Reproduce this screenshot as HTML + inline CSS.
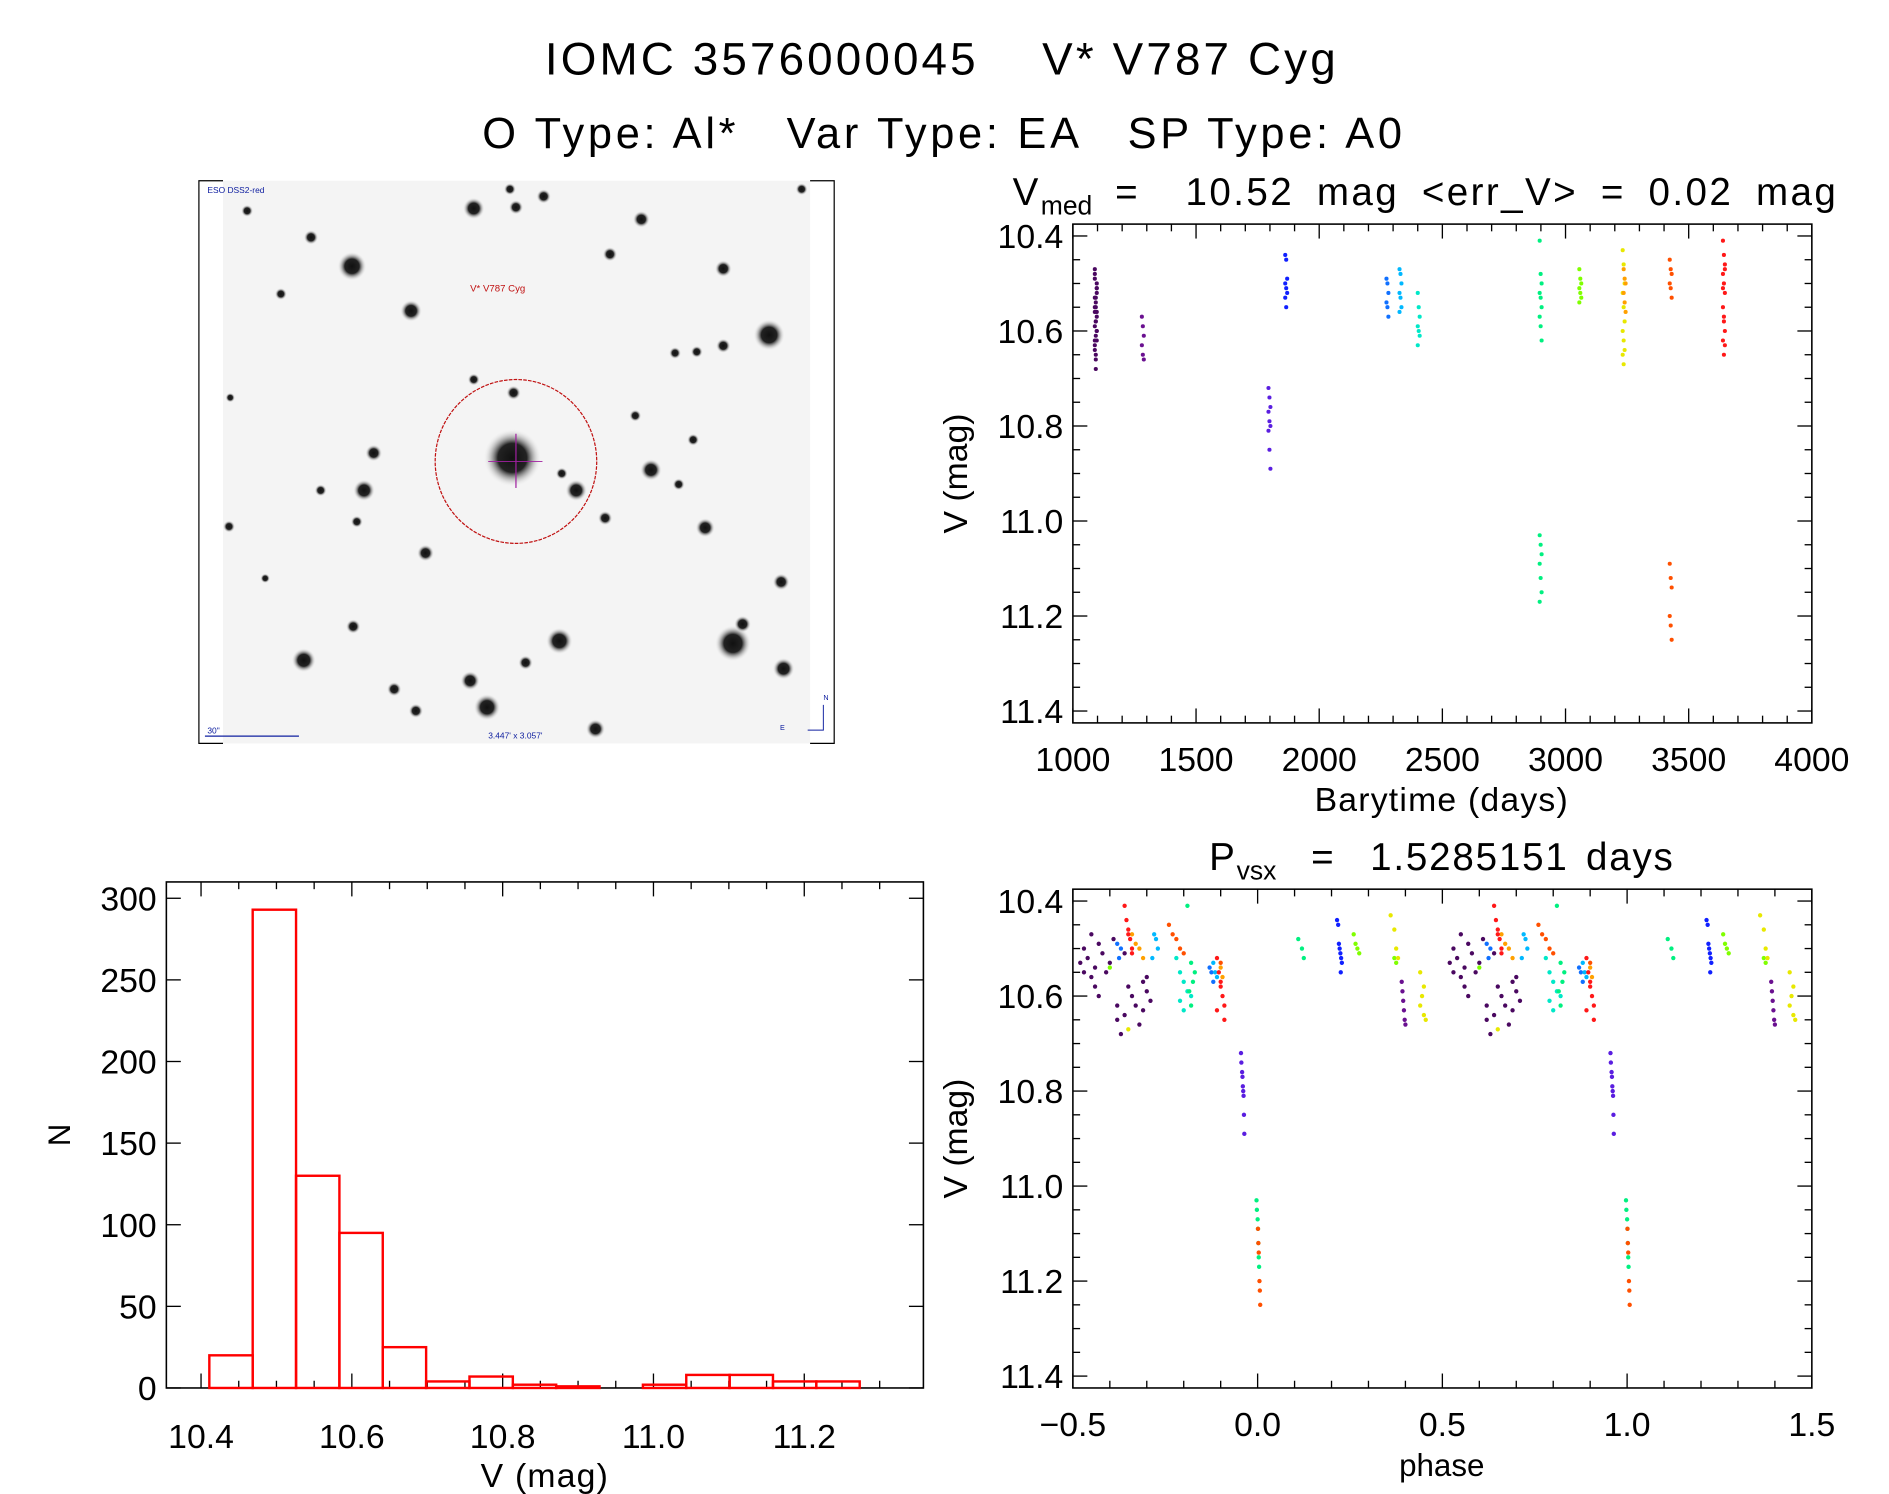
<!DOCTYPE html>
<html><head><meta charset="utf-8">
<style>
html,body{margin:0;padding:0;background:#fff;}
svg{display:block;}
text{font-family:"Liberation Sans",sans-serif;fill:#000;}
</style></head>
<body>
<svg id="fig" width="1889" height="1494" viewBox="0 0 1567 1240" preserveAspectRatio="none" xmlns="http://www.w3.org/2000/svg">
<defs>
<radialGradient id="star"><stop offset="0" stop-color="#111"/><stop offset="0.5" stop-color="#222"/><stop offset="1" stop-color="#f4f4f4" stop-opacity="0"/></radialGradient>
</defs>
<text x="452" y="62" font-size="38" textLength="656" lengthAdjust="spacing" xml:space="preserve">IOMC 3576000045    V* V787 Cyg</text>
<text x="400" y="123" font-size="36" textLength="763" lengthAdjust="spacing" xml:space="preserve">O Type: Al*   Var Type: EA   SP Type: A0</text>
<g id="img"></g>
<g id="lc"></g>
<g id="ph"></g>
<g id="hist"></g>
</svg>
<script>
// ---- Light curve data: one entry per season ----
const seasonTimes  = [1093, 1284, 1798, 1866, 2277, 2330, 2404, 2899, 3060, 3236, 3240, 3427, 3643];
const seasonColors = ["#4a0860","#6a1090","#5a1ee0","#1020ff","#1070ff","#00b8ff","#00e8c8","#00f080","#80ff00","#e8e800","#ffa000","#ff5000","#ff1818"];
const seasonMags = [
 [10.53,10.55,10.52,10.56,10.54,10.60,10.55,10.53,10.62,10.64,10.58,10.60,10.62,10.66,10.57,10.59,10.61,10.51,10.48,10.68,10.50,10.47,10.58,10.51,10.63,10.65,10.56,10.49],
 [10.57,10.59,10.61,10.63,10.65,10.66],
 [10.72,10.74,10.76,10.77,10.79,10.80,10.81,10.85,10.89],
 [10.44,10.45,10.49,10.50,10.51,10.52,10.53,10.55],
 [10.49,10.50,10.52,10.54,10.55,10.57],
 [10.47,10.48,10.50,10.52,10.53,10.55,10.56],
 [10.52,10.55,10.57,10.59,10.60,10.61,10.63],
 [10.41,10.48,10.50,10.52,10.53,10.55,10.57,10.59,10.62,11.03,11.05,11.07,11.09,11.12,11.15,11.17],
 [10.47,10.49,10.50,10.51,10.52,10.53,10.54],
 [10.43,10.46,10.50,10.52,10.55,10.58,10.60,10.62,10.64,10.65,10.67],
 [10.47,10.49,10.50,10.52,10.54,10.56],
 [10.45,10.47,10.48,10.50,10.51,10.53,11.09,11.12,11.14,11.20,11.22,11.25],
 [10.41,10.44,10.46,10.48,10.50,10.52,10.55,10.58,10.60,10.62,10.65,10.47,10.51,10.57,10.63]
];
const seasonPhases = [
 [-0.48,-0.47,-0.46,-0.45,-0.44,-0.43,-0.41,-0.40,-0.38,-0.36,-0.35,-0.34,-0.33,-0.32,-0.31,-0.30,-0.29,-0.42,-0.39,-0.37,-0.47,-0.45,-0.44,-0.36,-0.31,-0.38,-0.30,-0.43],
 [0.390,0.392,0.394,0.396,0.398,0.400],
 [-0.045,-0.044,-0.042,-0.041,-0.040,-0.039,-0.038,-0.037,-0.036],
 [0.215,0.218,0.220,0.222,0.224,0.226,0.228,0.225],
 [-0.38,-0.37,-0.375,-0.13,-0.125,-0.12],
 [-0.28,-0.275,-0.27,-0.285,-0.12,-0.115,-0.11],
 [-0.22,-0.21,-0.20,-0.19,-0.18,-0.21,-0.20],
 [-0.19,0.11,0.12,0.125,-0.18,-0.17,-0.175,-0.185,-0.18,-0.003,-0.002,0.0,0.001,0.002,0.003,0.004],
 [0.26,0.265,0.27,0.275,0.37,0.375,-0.40],
 [0.36,0.37,0.375,0.38,0.44,0.45,0.445,0.44,0.45,0.455,-0.35],
 [-0.34,-0.33,-0.32,-0.31,-0.10,-0.095],
 [-0.24,-0.23,-0.22,-0.21,-0.20,-0.10,0.001,0.002,0.003,0.005,0.006,0.007],
 [-0.36,-0.355,-0.35,-0.345,-0.34,-0.11,-0.105,-0.10,-0.095,-0.09,-0.09,-0.35,-0.34,-0.10,-0.11]
];
// ---- Histogram data ----
const histBinStart = 10.411;
const histBinWidth = 0.0575;
const histCounts = [20, 293, 130, 95, 25, 4, 7, 2, 1, 0, 2, 8, 8, 4, 4];
const histXTicks = ["10.4","10.6","10.8","11.0","11.2"];
const histYTicks = [0,50,100,150,200,250,300];
const lcXTicks = [1000,1500,2000,2500,3000,3500,4000];
const magTicks = ["10.4","10.6","10.8","11.0","11.2","11.4"];
const phaseTicks = ["-0.5","0.0","0.5","1.0","1.5"];

const NS="http://www.w3.org/2000/svg";
function mk(parent,tag,attrs,txt){const e=document.createElementNS(NS,tag);for(const k in attrs)e.setAttribute(k,attrs[k]);if(txt!==undefined)e.textContent=txt;parent.appendChild(e);return e;}

// ---- Sky image ----
const img=document.getElementById('img');
mk(img,'rect',{x:185,y:150,width:487,height:467,fill:'#f4f4f4'});
mk(img,'polyline',{points:'185,150 165,150 165,617 185,617',fill:'none',stroke:'#000','stroke-width':1});
mk(img,'polyline',{points:'672,150 692,150 692,617 672,617',fill:'none',stroke:'#000','stroke-width':1});
const stars=[[292,221,12],[393,173,9],[428,172,6],[451,163,6],[532,182,7],[600,223,7],[341,258,9],[638,278,13],[258,197,6],[205,175,5],[233,244,5],[506,211,6],[425,380,24],[478,407,9],[302,407,9],[310,376,7],[540,390,9],[585,438,8],[353,459,7],[464,532,11],[608,534,15],[650,555,9],[648,483,7],[252,548,10],[390,565,8],[404,587,11],[345,590,6],[327,572,6],[494,605,8],[293,520,6],[436,550,6],[600,287,6],[578,292,5],[560,293,5],[527,345,5],[575,365,5],[426,326,6],[393,315,5],[296,433,5],[190,437,5],[563,402,5],[266,407,5],[423,157,5],[665,157,5],[616,518,7],[466,393,5],[502,430,6],[191,330,4],[220,480,4]];
stars.forEach(s=>{const c=mk(img,'circle',{cx:s[0],cy:s[1],r:s[2],fill:'url(#star)'});

});
mk(img,'line',{x1:428,y1:360,x2:428,y2:405,stroke:'#a020a0','stroke-width':1});
mk(img,'line',{x1:405,y1:383,x2:450,y2:383,stroke:'#a020a0','stroke-width':0.8});
mk(img,'ellipse',{cx:428,cy:383,rx:67,ry:68,fill:'none',stroke:'#c01010','stroke-width':1,'stroke-dasharray':'3,1'});
mk(img,'text',{x:390,y:242,'font-size':8,style:'fill:#c01010'},'V* V787 Cyg');
mk(img,'text',{x:172,y:160,'font-size':7,style:'fill:#1020a0'},'ESO DSS2-red');
mk(img,'text',{x:172,y:609,'font-size':7,style:'fill:#1020a0'},'30"');
mk(img,'line',{x1:170,y1:611,x2:248,y2:611,stroke:'#1020a0','stroke-width':1});
mk(img,'text',{x:405,y:613,'font-size':7,style:'fill:#1020a0'},"3.447' x 3.057'");
mk(img,'text',{x:683,y:581,'font-size':6,style:'fill:#1020a0'},'N');
mk(img,'text',{x:647,y:606,'font-size':6,style:'fill:#1020a0'},'E');
mk(img,'polyline',{points:'683,585 683,606 670,606',fill:'none',stroke:'#1020a0','stroke-width':0.8});

// ---- generic axes ----
function axes(g,L,T,R,B){mk(g,'rect',{x:L,y:T,width:R-L,height:B-T,fill:'none',stroke:'#000','stroke-width':1.3});}
function tick(g,x1,y1,x2,y2){mk(g,'line',{x1,y1,x2,y2,stroke:'#000','stroke-width':1.1});}

function magPlot(g,L,T,R,B,xmin,xmax,xMajor,xMinor,xLabels,xFmt){
  const yS=v=>T+(v-10.375)/(11.425-10.375)*(B-T);
  const xS=v=>L+(v-xmin)/(xmax-xmin)*(R-L);
  axes(g,L,T,R,B);
  for(let v=10.4;v<=11.4001;v+=0.05){const y=yS(v);const maj=Math.abs((v*10)%2)<0.01||Math.abs((v*10)%2-2)<0.01;const l=maj?12:6;tick(g,L,y,L+l,y);tick(g,R,y,R-l,y);}
  magTicks.forEach(s=>{const t=mk(g,'text',{x:L-8,y:yS(+s)+10,'font-size':28,'text-anchor':'end'},s);
   });
  for(let v=xmin;v<=xmax+1e-9;v+=xMinor){const x=xS(v);const maj=Math.abs(Math.round((v-xmin)/xMajor)*xMajor-(v-xmin))<1e-6;const l=maj?12:6;tick(g,x,B,x,B-l);tick(g,x,T,x,T+l);}
  xLabels.forEach(s=>{const t=mk(g,'text',{x:xS(+s),y:B+40,'font-size':28,'text-anchor':'middle'},xFmt?xFmt(s):s);
   });
  const yl=mk(g,'text',{x:0,y:0,'font-size':28,'text-anchor':'middle',transform:`translate(${L-88},${(T+B)/2}) rotate(-90)`},'V (mag)');
  
  return {xS,yS};
}

// ---- Light curve ----
const lc=document.getElementById('lc');
const A=magPlot(lc,890,186,1503,600,1000,4000,500,100,lcXTicks.map(String));
let t1=mk(lc,'text',{x:840,y:170,'font-size':32,'letter-spacing':'2','word-spacing':'8'},'');

t1.innerHTML='V<tspan font-size="22" dy="8" letter-spacing="0">med</tspan><tspan dy="-8" xml:space="preserve"> =  10.52 mag &lt;err_V&gt; = 0.02 mag</tspan>';
let xt=mk(lc,'text',{x:1196,y:673,'font-size':28,'text-anchor':'middle','letter-spacing':'1'},'Barytime (days)');

seasonTimes.forEach((t,i)=>{seasonMags[i].forEach((m,j)=>{
  const c=mk(lc,'circle',{cx:A.xS(t)+((j%3)-1)*0.8,cy:A.yS(m),r:1.7,fill:seasonColors[i]});
  
  
});});

// ---- Phase plot ----
const ph=document.getElementById('ph');
const P=magPlot(ph,890,738,1503,1152,-0.5,1.5,0.5,0.1,phaseTicks,s=>s.replace('-','\u2212'));
let t2=mk(ph,'text',{x:1003,y:722,'font-size':32,'letter-spacing':'1.5','word-spacing':'4'},'');

t2.innerHTML='P<tspan font-size="22" dy="8" letter-spacing="0">vsx</tspan><tspan dy="-8" xml:space="preserve">  =  1.5285151 days</tspan>';
let pt=mk(ph,'text',{x:1196,y:1225,'font-size':26,'text-anchor':'middle'},'phase');

seasonPhases.forEach((arr,i)=>{arr.forEach((p,j)=>{
  [p,p+1].forEach(q=>{if(q<-0.5||q>1.5)return;
    const c=mk(ph,'circle',{cx:P.xS(q),cy:P.yS(seasonMags[i][j]),r:1.8,fill:seasonColors[i]});
    
    
  });});});

// ---- Histogram ----
const h=document.getElementById('hist');
const HL=138,HT=732,HR=766,HB=1152;
const hx=v=>HL+(v-10.354)/(11.358-10.354)*(HR-HL);
const hy=v=>HB-v/310*(HB-HT);
axes(h,HL,HT,HR,HB);
for(let v=10.4;v<=11.35;v+=0.05){const x=hx(v);const maj=Math.abs(((v-10.4)/0.2)-Math.round((v-10.4)/0.2))<0.01;const l=maj?12:6;tick(h,x,HB,x,HB-l);tick(h,x,HT,x,HT+l);}
histYTicks.forEach(v=>{const y=hy(v);tick(h,HL,y,HL+12,y);tick(h,HR,y,HR-12,y);
  const t=mk(h,'text',{x:HL-8,y:y+10,'font-size':28,'text-anchor':'end'},String(v));
  });
histXTicks.forEach(s=>{const t=mk(h,'text',{x:hx(+s),y:HB+50,'font-size':28,'text-anchor':'middle'},s);
  });
let hxt=mk(h,'text',{x:452,y:1234,'font-size':28,'text-anchor':'middle','letter-spacing':'1'},'V (mag)');

let hyt=mk(h,'text',{x:0,y:0,'font-size':26,'text-anchor':'middle',transform:'translate(58,942) rotate(-90)'},'N');

histCounts.forEach((c,i)=>{if(c<=0)return;const x0=hx(histBinStart+i*histBinWidth),x1=hx(histBinStart+(i+1)*histBinWidth);
  const r=mk(h,'rect',{x:x0,y:hy(c),width:x1-x0,height:HB-hy(c),fill:'none',stroke:'#ff0000','stroke-width':2});
  
  });
</script>
</body></html>
